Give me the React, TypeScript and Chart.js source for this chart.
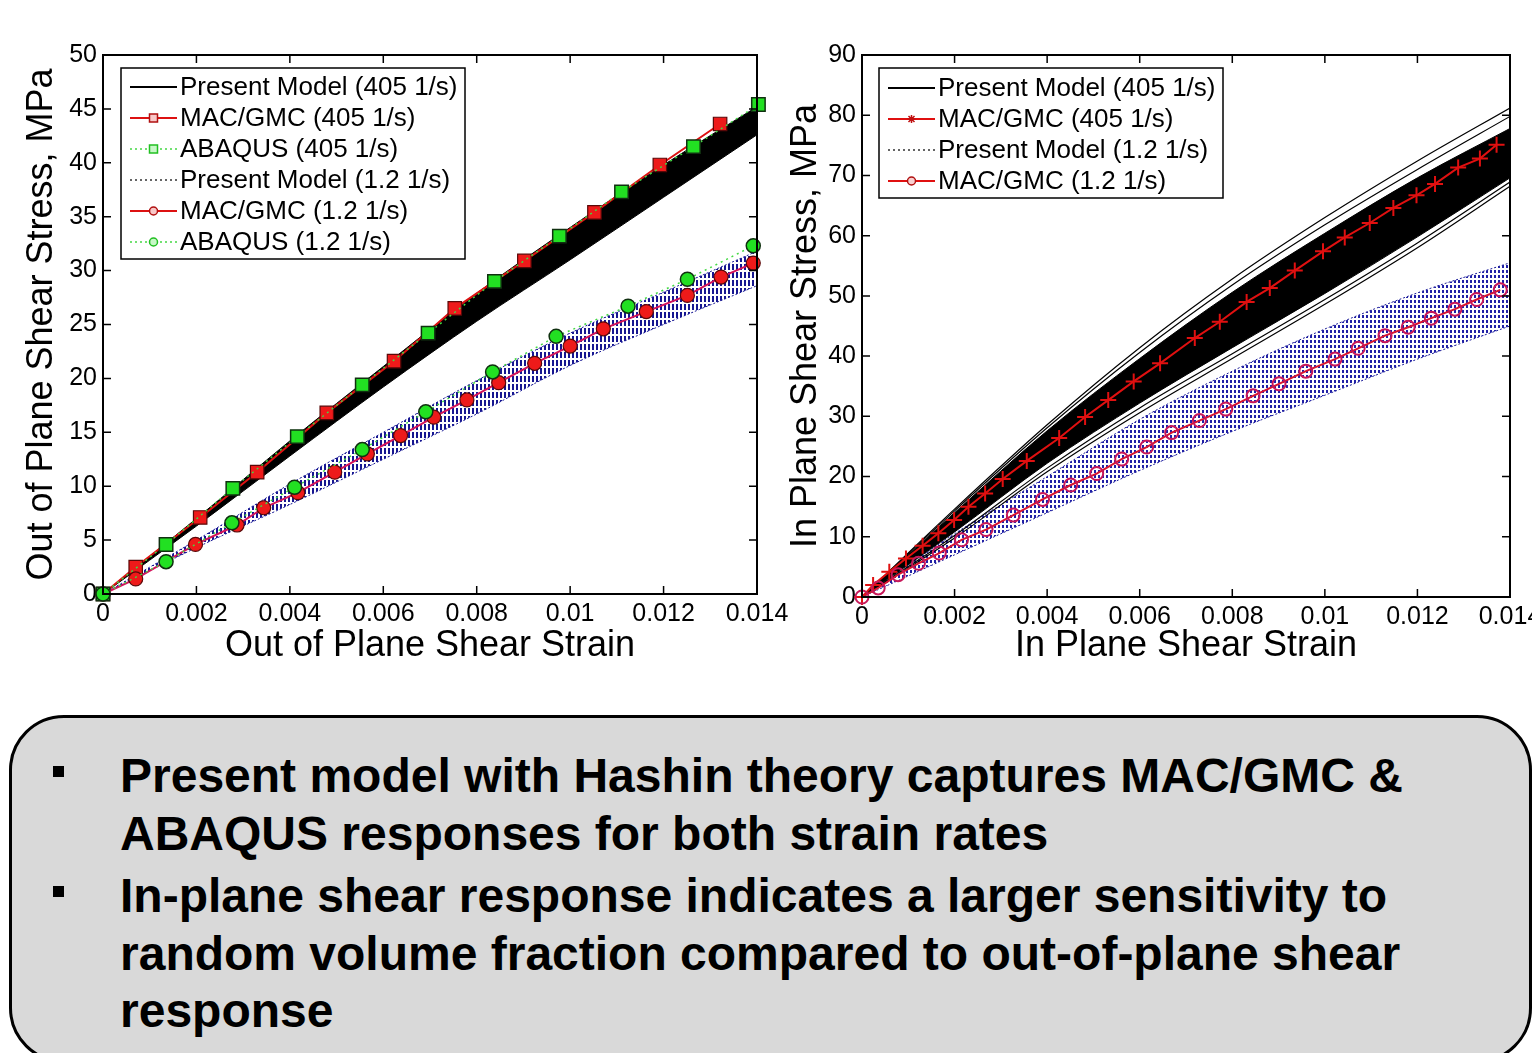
import React, { useEffect, useRef } from 'react';
import { Chart, registerables } from 'chart.js';

Chart.register(...registerables);

const FONT = '"Liberation Sans", Arial, Helvetica, sans-serif';

// ---------------- Left chart: out-of-plane shear ----------------
const oopXTickValues = [0, 0.002, 0.004, 0.006, 0.008, 0.01, 0.012, 0.014];
const oopXTickLabels = ['0', '0.002', '0.004', '0.006', '0.008', '0.01', '0.012', '0.014'];
const oopYTickValues = [0, 5, 10, 15, 20, 25, 30, 35, 40, 45, 50];
const oopYTickLabels = ['0', '5', '10', '15', '20', '25', '30', '35', '40', '45', '50'];

const bandStrain = [0, 0.002, 0.004, 0.006, 0.008, 0.01, 0.012, 0.014];

const oopPresent405Upper = [0, 7.0, 14.2, 21.1, 27.9, 34.0, 39.8, 45.2];
const oopPresent405Lower = [0, 6.3, 12.8, 19.2, 25.3, 31.0, 36.8, 42.6];
const oopPresent12Upper = [0, 5.0, 10.2, 15.0, 19.8, 24.2, 28.0, 31.8];
const oopPresent12Lower = [0, 4.3, 8.3, 12.5, 16.7, 21.2, 25.0, 28.6];

const oopMac405Strain = [0, 0.0007, 0.00208, 0.0033, 0.00479, 0.00623, 0.00753, 0.00902, 0.01052, 0.01192, 0.01321];
const oopMac405Stress = [0, 2.5, 7.1, 11.3, 16.8, 21.6, 26.5, 30.9, 35.4, 39.8, 43.6];

const oopAbq405Strain = [0, 0.00135, 0.00278, 0.00416, 0.00555, 0.00696, 0.00838, 0.00977, 0.0111, 0.01264, 0.01403];
const oopAbq405Stress = [0, 4.6, 9.8, 14.6, 19.4, 24.2, 29.0, 33.2, 37.3, 41.5, 45.4];

const oopMac12Strain = [0, 0.0007, 0.00198, 0.00287, 0.00344, 0.00417, 0.00496, 0.00566, 0.00637, 0.00708, 0.00779, 0.00847, 0.00924, 0.01, 0.01071, 0.01163, 0.01251, 0.01323, 0.01392];
const oopMac12Stress = [0, 1.4, 4.6, 6.4, 8.0, 9.4, 11.3, 13.0, 14.7, 16.4, 18.0, 19.6, 21.4, 23.0, 24.6, 26.2, 27.7, 29.4, 30.7];

const oopAbq12Strain = [0, 0.00135, 0.00276, 0.0041, 0.00555, 0.00691, 0.00834, 0.0097, 0.01124, 0.01251, 0.01392];
const oopAbq12Stress = [0, 3.0, 6.6, 9.9, 13.4, 16.9, 20.6, 23.9, 26.7, 29.2, 32.3];

const oopLegendLabels = [
  'Present Model (405 1/s)',
  'MAC/GMC (405 1/s)',
  'ABAQUS (405 1/s)',
  'Present Model (1.2 1/s)',
  'MAC/GMC (1.2 1/s)',
  'ABAQUS (1.2 1/s)',
];

// ---------------- Right chart: in-plane shear ----------------
const ipXTickValues = [0, 0.002, 0.004, 0.006, 0.008, 0.01, 0.012, 0.014];
const ipXTickLabels = ['0', '0.002', '0.004', '0.006', '0.008', '0.01', '0.012', '0.014'];
const ipYTickValues = [0, 10, 20, 30, 40, 50, 60, 70, 80, 90];
const ipYTickLabels = ['0', '10', '20', '30', '40', '50', '60', '70', '80', '90'];

const ipPresent405OuterUpper = [0, 14.6, 28.6, 41.4, 52.8, 63.0, 72.4, 81.2];
const ipPresent405SecondUpper = [0, 14.3, 28.1, 40.6, 51.8, 61.8, 71.0, 79.8];
const ipPresent405CoreUpper = [0, 14.0, 27.6, 39.6, 50.6, 60.4, 69.6, 77.8];
const ipPresent405CoreLower = [0, 10.8, 22.2, 32.2, 41.4, 50.4, 59.8, 69.6];
const ipPresent405SecondLower = [0, 10.2, 21.4, 31.4, 40.4, 49.4, 58.8, 68.9];
const ipPresent405OuterLower = [0, 9.8, 20.8, 30.6, 39.6, 48.6, 58.0, 68.2];

const ipPresent12Upper = [0, 10.5, 20.0, 29.5, 37.5, 44.5, 50.5, 55.5];
const ipPresent12Lower = [0, 7.0, 14.0, 21.0, 27.5, 33.5, 39.5, 45.0];

const ipMac405Strain = [0, 0.00024, 0.00059, 0.00095, 0.00131, 0.00165, 0.00199, 0.0023, 0.00266, 0.00304, 0.00356, 0.00426, 0.00482, 0.00532, 0.00587, 0.00644, 0.00719, 0.00773, 0.00831, 0.00881, 0.00935, 0.00996, 0.01043, 0.01097, 0.01148, 0.01198, 0.01238, 0.01288, 0.01335, 0.01371];
const ipMac405Stress = [0, 2.0, 4.2, 6.4, 8.5, 10.6, 12.8, 15.0, 17.2, 19.6, 22.6, 26.4, 29.9, 32.7, 35.8, 38.8, 43.0, 45.7, 49.0, 51.3, 54.2, 57.4, 59.7, 62.1, 64.6, 66.7, 68.6, 71.3, 72.8, 75.1];

const ipMac12Strain = [0, 0.00035, 0.00078, 0.00122, 0.00167, 0.00215, 0.00268, 0.00327, 0.0039, 0.00451, 0.00507, 0.00561, 0.00615, 0.00669, 0.00729, 0.00786, 0.00845, 0.00901, 0.00959, 0.01022, 0.01072, 0.0113, 0.0118, 0.0123, 0.01281, 0.01328, 0.01379];
const ipMac12Stress = [0, 1.5, 3.7, 5.6, 7.3, 9.5, 11.2, 13.6, 16.2, 18.6, 20.5, 22.9, 24.9, 27.3, 29.3, 31.2, 33.4, 35.4, 37.5, 39.5, 41.3, 43.4, 44.8, 46.3, 47.8, 49.4, 51.0];

const ipLegendLabels = [
  'Present Model (405 1/s)',
  'MAC/GMC (405 1/s)',
  'Present Model (1.2 1/s)',
  'MAC/GMC (1.2 1/s)',
];

// ---------------- Text box ----------------
const bulletParagraphs = [
  ['Present model with Hashin theory captures MAC/GMC &', 'ABAQUS responses for both strain rates'],
  ['In-plane shear response indicates a larger sensitivity to', 'random volume fraction compared to out-of-plane shear', 'response'],
];

// ---------------- helpers ----------------
function pts(xs: number[], ys: number[]) {
  return xs.map((x, i) => ({ x, y: ys[i] }));
}

function makePattern(w: number, h: number, color: string, rw: number, rh: number) {
  const c = document.createElement('canvas');
  c.width = w;
  c.height = h;
  const g = c.getContext('2d') as CanvasRenderingContext2D;
  g.fillStyle = color;
  g.fillRect(0, 0, rw, rh);
  return g.createPattern(c, 'repeat');
}

function xScale(values: number[], labels: string[], max: number, title: string, height: number) {
  return {
    type: 'linear',
    min: 0,
    max,
    afterBuildTicks: (s: any) => {
      s.ticks = values.map((v) => ({ value: v }));
    },
    afterFit: (s: any) => {
      s.height = height;
      s.paddingLeft = 0;
      s.paddingRight = 0;
    },
    ticks: {
      callback: (_v: any, i: number) => labels[i],
      font: { family: FONT, size: 25 },
      color: '#000',
      padding: 5,
      maxRotation: 0,
      autoSkip: false,
    },
    grid: { display: false, drawTicks: false },
    border: { display: false },
    title: {
      display: true,
      text: title,
      font: { family: FONT, size: 36 },
      color: '#000',
      padding: { top: 0, bottom: 12 },
    },
  };
}

function yScale(values: number[], labels: string[], max: number, title: string, width: number, titlePad: number) {
  return {
    type: 'linear',
    min: 0,
    max,
    afterBuildTicks: (s: any) => {
      s.ticks = values.map((v) => ({ value: v }));
    },
    afterFit: (s: any) => {
      s.width = width;
      s.paddingTop = 0;
      s.paddingBottom = 0;
    },
    ticks: {
      callback: (_v: any, i: number) => labels[i],
      font: { family: FONT, size: 25 },
      color: '#000',
      padding: 6,
      autoSkip: false,
    },
    grid: { display: false, drawTicks: false },
    border: { display: false },
    title: {
      display: true,
      text: title,
      font: { family: FONT, size: 36 },
      color: '#000',
      padding: { top: titlePad, bottom: 0 },
    },
  };
}

const framePlugin = {
  id: 'frameTicks',
  afterDatasetsDraw(chart: any) {
    const { ctx, chartArea: a, scales } = chart;
    const len = 8;
    ctx.save();
    ctx.strokeStyle = '#000';
    ctx.lineWidth = 1.5;
    ctx.beginPath();
    scales.x.ticks.forEach((t: any) => {
      const p = scales.x.getPixelForValue(t.value);
      ctx.moveTo(p, a.bottom);
      ctx.lineTo(p, a.bottom - len);
      ctx.moveTo(p, a.top);
      ctx.lineTo(p, a.top + len);
    });
    scales.y.ticks.forEach((t: any) => {
      const p = scales.y.getPixelForValue(t.value);
      ctx.moveTo(a.left, p);
      ctx.lineTo(a.left + len, p);
      ctx.moveTo(a.right, p);
      ctx.lineTo(a.right - len, p);
    });
    ctx.stroke();
    ctx.lineWidth = 2;
    ctx.strokeRect(a.left, a.top, a.right - a.left, a.bottom - a.top);
    ctx.restore();
  },
};

type LegendItem = {
  label: string;
  color: string;
  width: number;
  dash?: number[];
  marker?: 'rect' | 'circle' | 'star';
  markerColor?: string;
  markerFill?: string;
};

function legendPlugin(items: LegendItem[], box: { dx: number; dy: number; w: number; h: number; first: number; row: number }) {
  return {
    id: 'boxLegend',
    afterDraw(chart: any) {
      const { ctx, chartArea: a } = chart;
      const x = a.left + box.dx;
      const y = a.top + box.dy;
      ctx.save();
      ctx.fillStyle = '#fff';
      ctx.fillRect(x, y, box.w, box.h);
      ctx.strokeStyle = '#000';
      ctx.lineWidth = 1.5;
      ctx.strokeRect(x, y, box.w, box.h);
      ctx.font = `26px ${FONT}`;
      ctx.textBaseline = 'middle';
      ctx.textAlign = 'left';
      items.forEach((it, i) => {
        const cy = y + box.first + i * box.row;
        const x0 = x + 9;
        const x1 = x + 56;
        const cx = (x0 + x1) / 2;
        ctx.strokeStyle = it.color;
        ctx.lineWidth = it.width;
        ctx.setLineDash(it.dash || []);
        ctx.beginPath();
        ctx.moveTo(x0, cy);
        ctx.lineTo(x1, cy);
        ctx.stroke();
        ctx.setLineDash([]);
        if (it.marker) {
          ctx.strokeStyle = it.markerColor || it.color;
          ctx.lineWidth = 1.5;
          ctx.beginPath();
          if (it.marker === 'rect') {
            ctx.rect(cx - 4, cy - 4, 8, 8);
          } else if (it.marker === 'circle') {
            ctx.arc(cx, cy, 4, 0, Math.PI * 2);
          } else {
            ctx.moveTo(cx - 4, cy);
            ctx.lineTo(cx + 4, cy);
            ctx.moveTo(cx, cy - 4);
            ctx.lineTo(cx, cy + 4);
            ctx.moveTo(cx - 3, cy - 3);
            ctx.lineTo(cx + 3, cy + 3);
            ctx.moveTo(cx - 3, cy + 3);
            ctx.lineTo(cx + 3, cy - 3);
          }
          if (it.markerFill && it.marker !== 'star') {
            ctx.fillStyle = it.markerFill;
            ctx.fill();
          }
          ctx.stroke();
        }
        ctx.fillStyle = '#000';
        ctx.fillText(it.label, x + 59, cy + 1);
      });
      ctx.restore();
    },
  };
}

const RED = '#dd1111';
const GREEN_LINE = '#44d844';
const GREEN_FILL = '#22e022';
const NAVY = '#1c1c98';

function buildLeftConfig() {
  const hatch = makePattern(4, 8, '#161690', 2, 6);
  const datasets: any[] = [
    {
      label: 'ABAQUS (1.2 1/s)',
      data: pts(oopAbq12Strain, oopAbq12Stress),
      borderColor: GREEN_LINE,
      borderWidth: 1.5,
      borderDash: [2, 4],
      pointStyle: 'circle',
      pointRadius: 7,
      pointBackgroundColor: GREEN_FILL,
      pointBorderColor: '#103010',
      pointBorderWidth: 1.5,
      order: 1,
      clip: false,
    },
    {
      label: 'ABAQUS (405 1/s)',
      data: pts(oopAbq405Strain, oopAbq405Stress),
      borderColor: GREEN_LINE,
      borderWidth: 1.5,
      borderDash: [2, 4],
      pointStyle: 'rect',
      pointRadius: 9.5,
      pointBackgroundColor: GREEN_FILL,
      pointBorderColor: '#103010',
      pointBorderWidth: 1.5,
      order: 1,
      clip: false,
    },
    {
      label: 'MAC/GMC (1.2 1/s)',
      data: pts(oopMac12Strain, oopMac12Stress),
      borderColor: '#d4145a',
      borderWidth: 2,
      pointStyle: 'circle',
      pointRadius: 7,
      pointBackgroundColor: '#ee1a1a',
      pointBorderColor: '#5a0808',
      pointBorderWidth: 1.2,
      order: 2,
      clip: false,
    },
    {
      label: 'MAC/GMC (405 1/s)',
      data: pts(oopMac405Strain, oopMac405Stress),
      borderColor: RED,
      borderWidth: 2,
      pointStyle: 'rect',
      pointRadius: 9.5,
      pointBackgroundColor: '#ee1a1a',
      pointBorderColor: '#5a0808',
      pointBorderWidth: 1.2,
      order: 2,
      clip: false,
    },
    {
      label: 'Present Model (405 1/s) upper',
      data: pts(bandStrain, oopPresent405Upper),
      borderColor: '#000',
      borderWidth: 1,
      pointRadius: 0,
      fill: '+1',
      backgroundColor: '#000',
      cubicInterpolationMode: 'monotone',
      order: 5,
    },
    {
      label: 'Present Model (405 1/s) lower',
      data: pts(bandStrain, oopPresent405Lower),
      borderColor: '#000',
      borderWidth: 1,
      pointRadius: 0,
      fill: false,
      cubicInterpolationMode: 'monotone',
      order: 5,
    },
    {
      label: 'Present Model (1.2 1/s) upper',
      data: pts(bandStrain, oopPresent12Upper),
      borderColor: NAVY,
      borderWidth: 1,
      borderDash: [2, 2],
      pointRadius: 0,
      fill: '+1',
      backgroundColor: hatch,
      cubicInterpolationMode: 'monotone',
      order: 6,
    },
    {
      label: 'Present Model (1.2 1/s) lower',
      data: pts(bandStrain, oopPresent12Lower),
      borderColor: NAVY,
      borderWidth: 1,
      borderDash: [2, 2],
      pointRadius: 0,
      fill: false,
      cubicInterpolationMode: 'monotone',
      order: 6,
    },
  ];
  const legendItems: LegendItem[] = [
    { label: oopLegendLabels[0], color: '#000', width: 2 },
    { label: oopLegendLabels[1], color: RED, width: 2, marker: 'rect', markerColor: '#b01010', markerFill: '#f8c8c8' },
    { label: oopLegendLabels[2], color: GREEN_LINE, width: 1.5, dash: [2, 3], marker: 'rect', markerColor: '#22c022', markerFill: '#c8f8c8' },
    { label: oopLegendLabels[3], color: '#333', width: 1.5, dash: [2, 3] },
    { label: oopLegendLabels[4], color: RED, width: 2, marker: 'circle', markerColor: '#b01010', markerFill: '#f8c8c8' },
    { label: oopLegendLabels[5], color: GREEN_LINE, width: 1.5, dash: [2, 3], marker: 'circle', markerColor: '#22c022', markerFill: '#c8f8c8' },
  ];
  return {
    type: 'line',
    data: { datasets },
    options: {
      responsive: false,
      animation: false,
      devicePixelRatio: 1,
      events: [],
      layout: { padding: { left: 0, top: 55, right: 33, bottom: 0 } },
      plugins: { legend: { display: false }, tooltip: { enabled: false } },
      scales: {
        x: xScale(oopXTickValues, oopXTickLabels, 0.014, 'Out of Plane Shear Strain', 86),
        y: yScale(oopYTickValues, oopYTickLabels, 50, 'Out of Plane Shear Stress, MPa', 103, 20),
      },
    },
    plugins: [framePlugin, legendPlugin(legendItems, { dx: 18, dy: 13, w: 344, h: 191, first: 19, row: 31 })],
  };
}

function buildRightConfig() {
  const hatch = makePattern(4, 5, '#2020a6', 2, 3);
  const line = (ys: number[], label: string) => ({
    label,
    data: pts(bandStrain, ys),
    borderColor: '#000',
    borderWidth: 1.2,
    pointRadius: 0,
    fill: false,
    cubicInterpolationMode: 'monotone',
    order: 5,
  });
  const datasets: any[] = [
    {
      label: 'MAC/GMC (1.2 1/s)',
      data: pts(ipMac12Strain, ipMac12Stress),
      borderColor: '#d81530',
      borderWidth: 2,
      pointStyle: 'circle',
      pointRadius: 6.5,
      pointBackgroundColor: 'rgba(0,0,0,0)',
      pointBorderColor: '#c8185a',
      pointBorderWidth: 2,
      order: 1,
      clip: false,
    },
    {
      label: 'MAC/GMC (405 1/s)',
      data: pts(ipMac405Strain, ipMac405Stress),
      borderColor: '#e01010',
      borderWidth: 2,
      pointStyle: 'cross',
      pointRadius: 8,
      pointBorderColor: '#e01010',
      pointBorderWidth: 2,
      order: 1,
      clip: false,
    },
    {
      label: 'Present Model (405 1/s) core upper',
      data: pts(bandStrain, ipPresent405CoreUpper),
      borderColor: '#000',
      borderWidth: 1,
      pointRadius: 0,
      fill: '+1',
      backgroundColor: '#000',
      cubicInterpolationMode: 'monotone',
      order: 5,
    },
    {
      label: 'Present Model (405 1/s) core lower',
      data: pts(bandStrain, ipPresent405CoreLower),
      borderColor: '#000',
      borderWidth: 1,
      pointRadius: 0,
      fill: false,
      cubicInterpolationMode: 'monotone',
      order: 5,
    },
    line(ipPresent405OuterUpper, 'Present Model (405 1/s) outer upper'),
    line(ipPresent405SecondUpper, 'Present Model (405 1/s) second upper'),
    line(ipPresent405SecondLower, 'Present Model (405 1/s) second lower'),
    line(ipPresent405OuterLower, 'Present Model (405 1/s) outer lower'),
    {
      label: 'Present Model (1.2 1/s) upper',
      data: pts(bandStrain, ipPresent12Upper),
      borderColor: NAVY,
      borderWidth: 1,
      borderDash: [2, 2],
      pointRadius: 0,
      fill: '+1',
      backgroundColor: hatch,
      cubicInterpolationMode: 'monotone',
      order: 6,
    },
    {
      label: 'Present Model (1.2 1/s) lower',
      data: pts(bandStrain, ipPresent12Lower),
      borderColor: NAVY,
      borderWidth: 1,
      borderDash: [2, 2],
      pointRadius: 0,
      fill: false,
      cubicInterpolationMode: 'monotone',
      order: 6,
    },
  ];
  const legendItems: LegendItem[] = [
    { label: ipLegendLabels[0], color: '#000', width: 2 },
    { label: ipLegendLabels[1], color: '#e01010', width: 2, marker: 'star', markerColor: '#c01010' },
    { label: ipLegendLabels[2], color: '#333', width: 1.5, dash: [2, 3] },
    { label: ipLegendLabels[3], color: '#e01010', width: 2, marker: 'circle', markerColor: '#b01010', markerFill: '#f8d0d0' },
  ];
  return {
    type: 'line',
    data: { datasets },
    options: {
      responsive: false,
      animation: false,
      devicePixelRatio: 1,
      events: [],
      layout: { padding: { left: 0, top: 55, right: 22, bottom: 0 } },
      plugins: { legend: { display: false }, tooltip: { enabled: false } },
      scales: {
        x: xScale(ipXTickValues, ipXTickLabels, 0.014, 'In Plane Shear Strain', 83),
        y: yScale(ipYTickValues, ipYTickLabels, 90, 'In Plane Shear Stress, MPa', 92, 14),
      },
    },
    plugins: [framePlugin, legendPlugin(legendItems, { dx: 17, dy: 13, w: 344, h: 130, first: 20, row: 31 })],
  };
}

function ChartCanvas(props: { build: () => any; left: number; top: number; width: number; height: number }) {
  const ref = useRef<HTMLCanvasElement | null>(null);
  useEffect(() => {
    if (!ref.current) return;
    const chart = new Chart(ref.current, props.build());
    return () => chart.destroy();
  }, []);
  return (
    <canvas
      ref={ref}
      width={props.width}
      height={props.height}
      style={{ position: 'absolute', left: props.left, top: props.top, width: props.width, height: props.height, display: 'block' }}
    />
  );
}

export default function App() {
  const lineH = 57.5;
  const paraTops = [747, 867];
  return (
    <div
      style={{
        position: 'absolute',
        left: 0,
        top: 0,
        width: 1532,
        height: 1053,
        overflow: 'hidden',
        background: '#fff',
        fontFamily: FONT,
      }}
    >
      <ChartCanvas build={buildLeftConfig} left={0} top={0} width={790} height={680} />
      <ChartCanvas build={buildRightConfig} left={770} top={0} width={762} height={680} />
      <div
        style={{
          position: 'absolute',
          left: 9,
          top: 715,
          width: 1523,
          height: 348,
          boxSizing: 'border-box',
          border: '3px solid #000',
          borderRadius: 55,
          background: '#d9d9d9',
        }}
      />
      {bulletParagraphs.map((para, pi) => (
        <React.Fragment key={pi}>
          <div
            style={{
              position: 'absolute',
              left: 53,
              top: paraTops[pi] + 19,
              width: 11,
              height: 11,
              background: '#000',
            }}
          />
          {para.map((txt, li) => (
            <div
              key={li}
              style={{
                position: 'absolute',
                left: 120,
                top: paraTops[pi] + li * lineH,
                height: lineH,
                lineHeight: `${lineH}px`,
                fontSize: 48,
                fontWeight: 'bold',
                color: '#000',
                whiteSpace: 'nowrap',
              }}
            >
              {txt}
            </div>
          ))}
        </React.Fragment>
      ))}
    </div>
  );
}
